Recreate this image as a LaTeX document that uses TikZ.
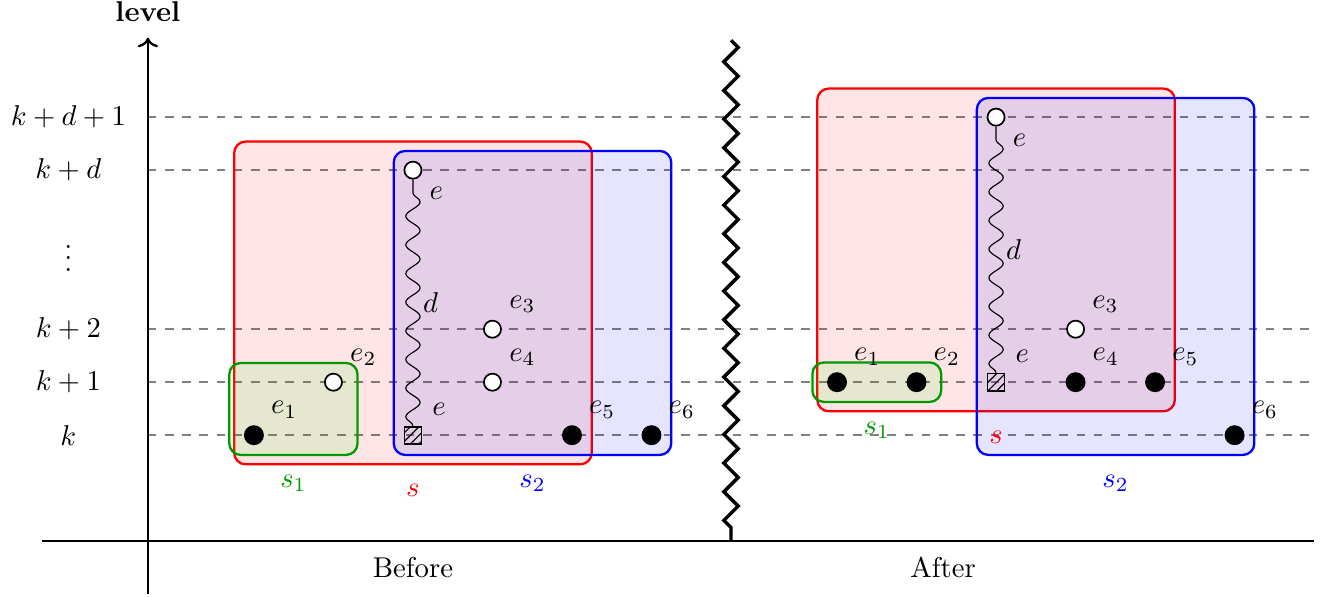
\documentclass[tikz,border=0pt]{standalone}
\usetikzlibrary{arrows.meta, fit, backgrounds, decorations.pathmorphing, patterns}

\begin{document}
\begin{tikzpicture}[
		x=0.65cm, y=0.65cm,
		vfull/.style={draw,circle,fill=black,inner sep=0pt,minimum size=2.3mm},
		vopen/.style={draw,circle,fill=white,semithick,inner sep=0pt,minimum size=2.1mm},
		vroot/.style={draw,rectangle,semithick,pattern=north east lines,inner sep=0pt,minimum size=2.1mm},
		guide/.style={dashed,gray,semithick},
		grp/.style={draw,thick,rounded corners,fill opacity=0.1,inner sep=0.12cm},
		wavy/.style={decorate,decoration={snake}},
		cut/.style={very thick,decorate,decoration={zigzag}}
		]
		\useasboundingbox (-2.79,-1.04) rectangle (22.30,10.21);
		% axes
		\coordinate (ybot) at (0,-1);
		\coordinate (ytop) at (0,9.5);
		\coordinate (xl) at (-2,0);
		\coordinate (xr) at (22,0);
		\draw[->,thick] (ybot) -- (ytop);
		\draw[thick] (xl) -- (xr);
		\node[above=2pt] (lvl) at (ytop) {\textbf{level}};
		\node at (-1.5,2) (lk) {$k$};
		\node at (-1.5,3) (lk1) {$k+1$};
		\node at (-1.5,4) (lk2) {$k+2$};
		\node at (-1.5,5.5) (ldots) {$\vdots$};
		\node at (-1.5,7) (lkd) {$k+d$};
		\node at (-1.5,8) (lkd1) {$k+d+1$};
		\node at (5,-0.5) (before) {Before};
		\node at (15,-0.5) (after) {After};
		% Before
		\node[vfull,label={above right:$e_1$}] at (2,2) (b1) {};
		\node[vopen,label={above right:$e_2$}] at (3.5,3) (b2) {};
		\node[vroot,label={above right:$e$}] at (5,2) (bs) {};
		\node[vopen,label={below right:$e$}] at (5,7) (be) {};
		\node[vopen,label={above right:$e_3$}] at (6.5,4) (b3) {};
		\node[vopen,label={above right:$e_4$}] at (6.5,3) (b4) {};
		\node[vfull,label={above right:$e_5$}] at (8,2) (b5) {};
		\node[vfull,label={above right:$e_6$}] at (9.5,2) (b6) {};
		\draw[wavy] (bs) -- node[right] (bd) {$d$} (be);
		% After
		\node[vfull,label={above right:$e_1$}] at (13,3) (a1) {};
		\node[vfull,label={above right:$e_2$}] at (14.5,3) (a2) {};
		\node[vroot,label={above right:$e$}] at (16,3) (as) {};
		\node[vopen,label={below right:$e$}] at (16,8) (ae) {};
		\node[vopen,label={above right:$e_3$}] at (17.5,4) (a3) {};
		\node[vfull,label={above right:$e_4$}] at (17.5,3) (a4) {};
		\node[vfull,label={above right:$e_5$}] at (19,3) (a5) {};
		\node[vfull,label={above right:$e_6$}] at (20.5,2) (a6) {};
		\draw[wavy] (as) -- node[right] (ad) {$d$} (ae);
		% cut between the two halves
		\coordinate (cuttop) at (11,9.45);
		\coordinate (cutbot) at (11,0);
		\draw[cut] (cuttop) -- (cutbot);
		% levels and sets
		\begin{scope}[on background layer]
		\draw[guide] (0,2) -- (22,2);
		\draw[guide] (0,3) -- (22,3);
		\draw[guide] (0,4) -- (22,4);
		\draw[guide] (0,7) -- (22,7);
		\draw[guide] (0,8) -- (22,8);
		
		\node[grp,draw=red,fill=red,fit=(b1)(be)(b5),inner ysep=0.235cm] (bsr) {};
		\node[grp,draw=blue,fill=blue,fit=(bs)(be)(b6)] (bsb) {};
		\node[grp,draw=green!60!black,fill=green,fit=(b1)(b2),inner xsep=0.18cm] (bsg) {};
		
		\node[grp,draw=red,fill=red,fit=(a1)(ae)(a5),inner ysep=0.235cm] (asr) {};
		\node[grp,draw=blue,fill=blue,fit=(as)(ae)(a6)] (asb) {};
		\node[grp,draw=green!60!black,fill=green,fit=(a1)(a2),inner xsep=0.18cm] (asg) {};
		\end{scope}
		\node[below=3pt,green!60!black] at (bsg.south) (ls1) {$s_1$};
		\node[below=3pt,red] at (bsr.south) (ls) {$s$};
		\node[below=3pt,blue] at (bsb.south) (ls2) {$s_2$};
		\node[below=3pt,green!60!black] at (asg.south) (rs1) {$s_1$};
		\node[below=3pt,red] at (asr.south) (rs) {$s$};
		\node[below=3pt,blue] at (asb.south) (rs2) {$s_2$};
	\end{tikzpicture}
\end{document}
